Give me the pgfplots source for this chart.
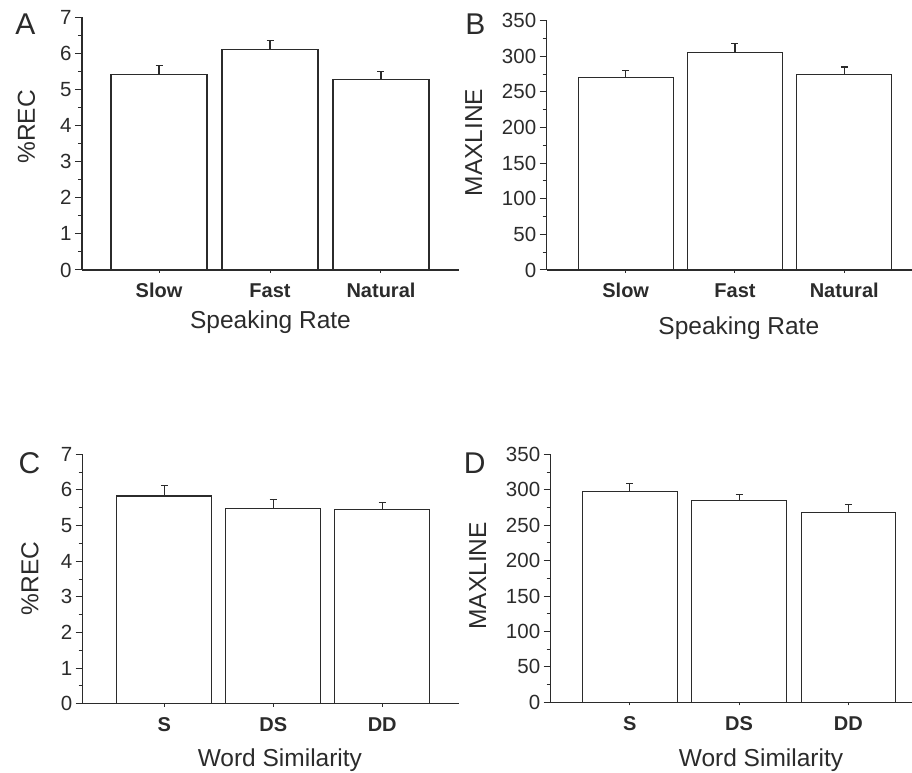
\documentclass[border=0pt]{standalone}
\usepackage{fontspec}
\setmainfont{Liberation Sans}
\usepackage{pgfplots}
\pgfplotsset{compat=1.18}
\definecolor{ink}{HTML}{2B2B2B}

\pgfplotsset{
  panel/.style={
    scale only axis,
    anchor=south west,
    ybar,
    axis x line=bottom, axis y line=left,
    axis line style={-, line width=1.3pt, ink},
    tick align=outside,
    tick style={line width=1pt, ink},
    major tick length=7pt, minor tick length=4pt,
    minor y tick num=1,
    xtick={0,1,2},
    xtick style={/pgfplots/major tick length=3pt},
    ymin=0,
    tick label style={font=\fontsize{20.5}{24}\selectfont, text=ink},
    xticklabel style={font=\bfseries\fontsize{20}{24}\selectfont, anchor=base, yshift=-20.7pt},
    label style={font=\fontsize{24.5}{28}\selectfont, text=ink},
    /pgf/number format/assume math mode=true,
    clip=false,
  },
  bars/.style={draw=ink, fill=white, line width=1.1pt,
    error bars/.cd, y dir=plus, y explicit,
    error bar style={line width=1.1pt, ink},
    error mark options={rotate=90, mark size=3.5pt, line width=1.1pt, ink}},
}
\tikzset{letter/.style={anchor=base west, font=\fontsize{30}{36}\selectfont, text=ink}}

\begin{document}
\begin{tikzpicture}
\path[use as bounding box] (0,0) rectangle (912pt,772pt);

% A: %REC by speaking rate
\begin{axis}[panel, at={(82pt,502pt)}, width=377pt, height=253pt,
  xmin=-0.694, xmax=2.703, ymax=7, ytick={0,...,7}, bar width=0.865,
  xticklabels={Slow,Fast,Natural},
  xlabel={Speaking Rate}, ylabel={\%REC},
  xlabel style={at={(axis description cs:0.5,-0.230)}, anchor=base},
  ylabel style={at={(axis description cs:-0.1247,0.566)}, anchor=base}]
\addplot[bars] coordinates {(0,5.40) +- (0,0.27) (1,6.09) +- (0,0.26) (2,5.26) +- (0,0.23)};
\node[letter] at (rel axis cs:-0.186,0.929) {A};
\end{axis}

% B: MAXLINE by speaking rate
\begin{axis}[panel, at={(546.7pt,502pt)}, width=365.3pt, height=249.3pt,
  xmin=-0.723, xmax=2.62, ymax=350, ytick={0,50,...,350}, bar width=0.869,
  xticklabels={Slow,Fast,Natural},
  xlabel={Speaking Rate}, ylabel={MAXLINE},
  xlabel style={at={(axis description cs:0.526,-0.257)}, anchor=base},
  ylabel style={at={(axis description cs:-0.177,0.511)}, anchor=base}]
\addplot[bars] coordinates {(0,270) +- (0,10) (1,305) +- (0,12.7) (2,274) +- (0,11)};
\node[letter] at (rel axis cs:-0.232,0.943) {B};
\end{axis}

% C: %REC by word similarity
\begin{axis}[panel, at={(82.7pt,68.3pt)}, width=376.3pt, height=249.4pt,
  xmin=-0.749, xmax=2.705, ymax=7, ytick={0,...,7}, bar width=0.874,
  xticklabels={S,DS,DD},
  xlabel={Word Similarity}, ylabel={\%REC},
  xlabel style={at={(axis description cs:0.524,-0.2526)}, anchor=base},
  ylabel style={at={(axis description cs:-0.118,0.503)}, anchor=base}]
\addplot[bars] coordinates {(0,5.83) +- (0,0.29) (1,5.49) +- (0,0.23) (2,5.44) +- (0,0.21)};
\node[letter] at (rel axis cs:-0.180,0.924) {C};
\end{axis}

% D: MAXLINE by word similarity
\begin{axis}[panel, at={(550.7pt,69.7pt)}, width=361.3pt, height=248pt,
  xmin=-0.724, xmax=2.583, ymax=350, ytick={0,50,...,350}, bar width=0.865,
  xticklabels={S,DS,DD},
  xlabel={Word Similarity}, ylabel={MAXLINE},
  xlabel style={at={(axis description cs:0.582,-0.2597)}, anchor=base},
  ylabel style={at={(axis description cs:-0.179,0.510)}, anchor=base}]
\addplot[bars] coordinates {(0,297) +- (0,12) (1,284.5) +- (0,9) (2,268) +- (0,11)};
\node[letter] at (rel axis cs:-0.25,0.9206) {D};
\end{axis}
\end{tikzpicture}
\end{document}
